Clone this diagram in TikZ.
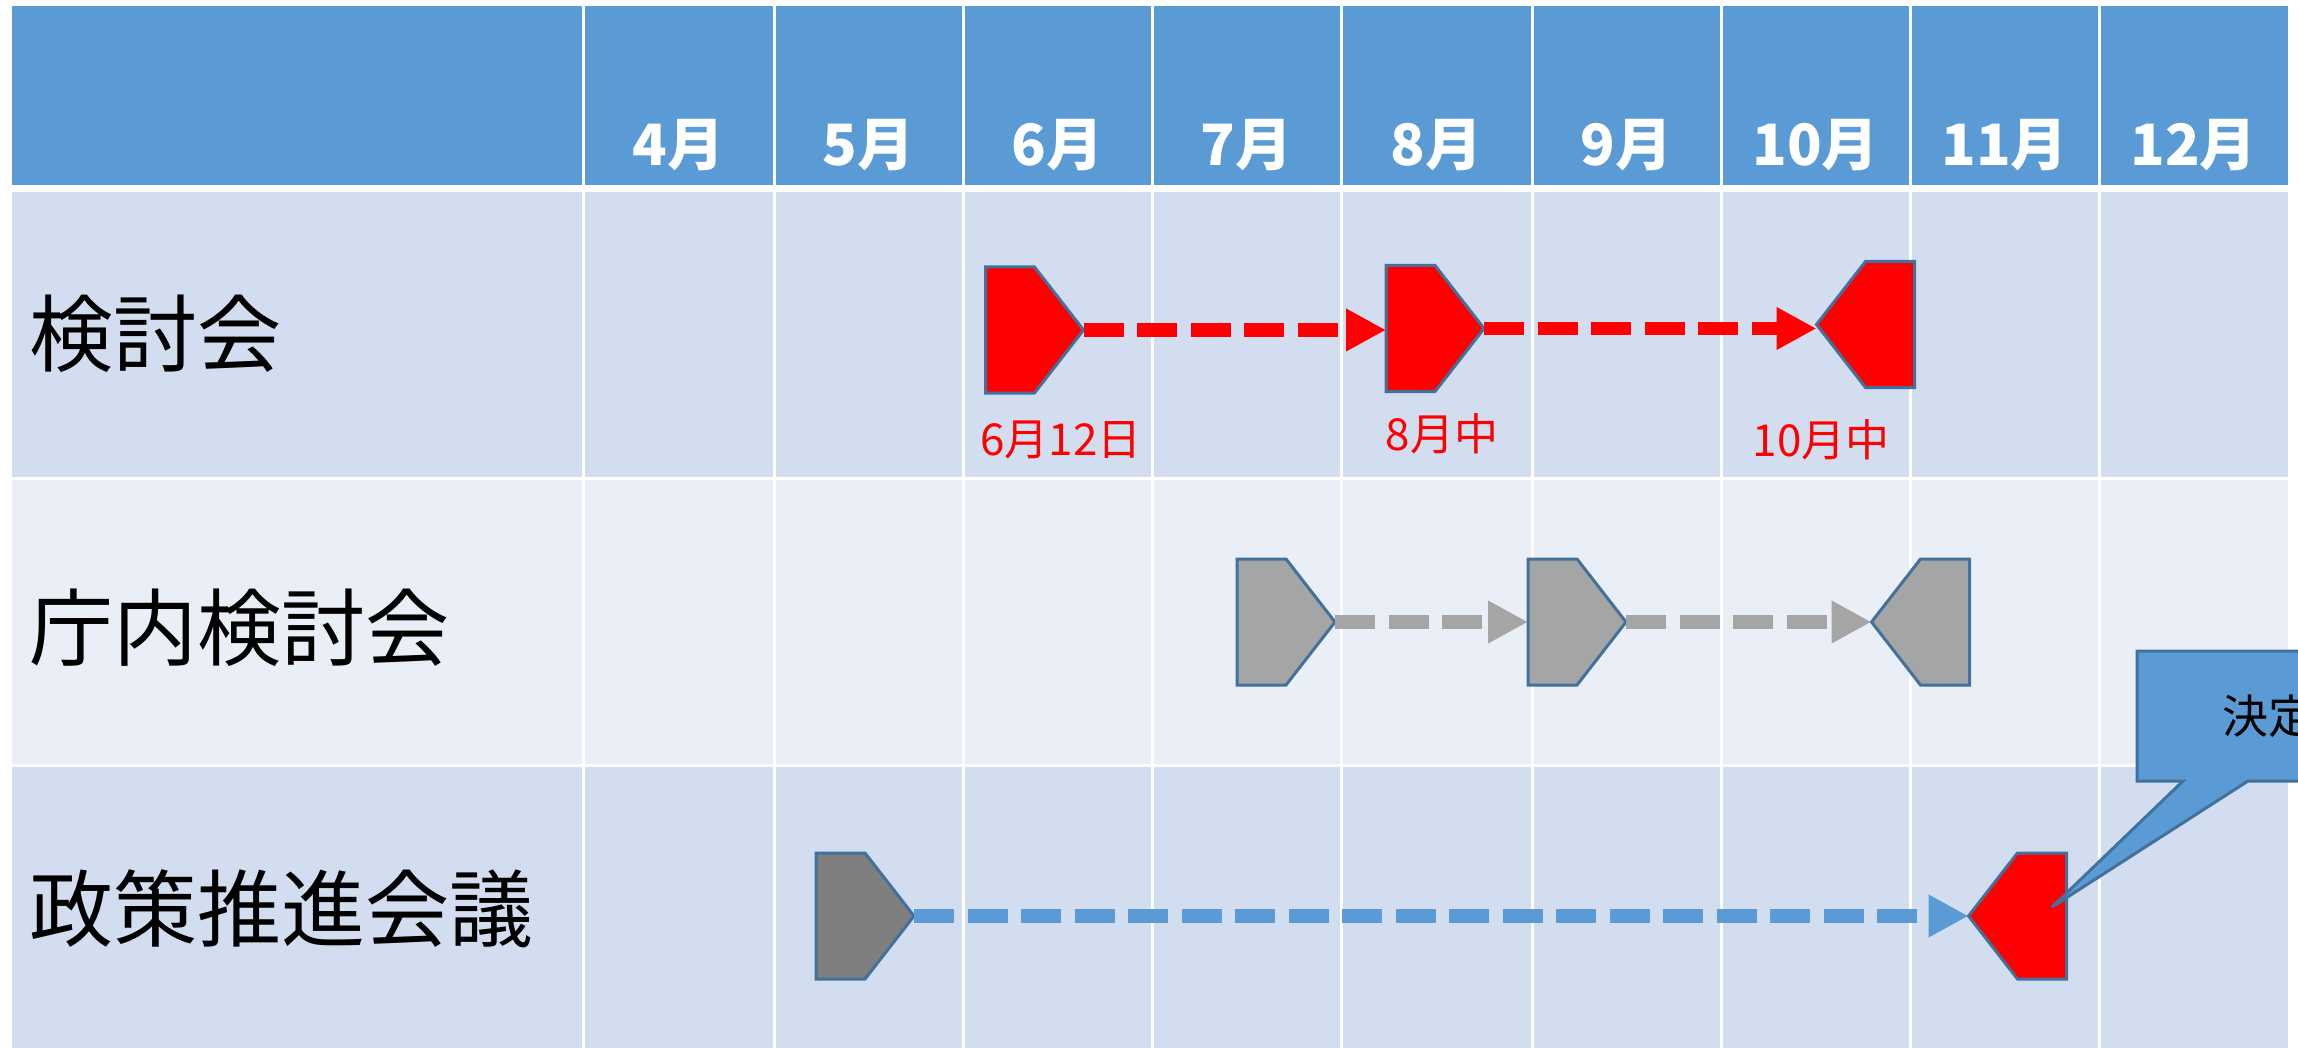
\documentclass[tikz,border=0pt]{standalone}
\usepackage{fontspec}
\setmainfont{Noto Sans CJK JP}
\usetikzlibrary{arrows.meta,calc}
\definecolor{hdr}{HTML}{5B9BD5}
\definecolor{band}{HTML}{D2DEEF}
\definecolor{bandlt}{HTML}{EAEFF7}
\definecolor{edgeblue}{HTML}{41719C}
\definecolor{gry}{HTML}{A5A5A5}
\definecolor{dgry}{HTML}{7F7F7F}
\definecolor{pred}{HTML}{FF0000}
\newcommand\pentR[3]{%
  \node[slot] (#1) at (#2) {};
  \draw[pent,fill=#3] (#1.north west) -- ($(#1.north east)+(-49,0)$) -- (#1.east)
    -- ($(#1.south east)+(-49,0)$) -- (#1.south west) -- cycle;}
\newcommand\pentL[3]{%
  \node[slot] (#1) at (#2) {};
  \draw[pent,fill=#3] (#1.west) -- ($(#1.north west)+(49,0)$) -- (#1.north east)
    -- (#1.south east) -- ($(#1.south west)+(49,0)$) -- cycle;}
\begin{document}
\begin{tikzpicture}[x=1pt,y=-1pt,
  slot/.style={inner sep=0pt,outer sep=0pt,minimum width=98pt,minimum height=126pt},
  pent/.style={draw=edgeblue,line width=3pt,line join=miter},
  flow/.style={draw=#1,line width=13.5pt,dash pattern=on 40pt off 13.5pt,
    -{Triangle[length=40pt,width=40pt]}},
  monthlab/.style={text=white,font=\fontsize{57}{57}\selectfont\bfseries,inner sep=0pt,anchor=base},
  rowlab/.style={text=black,font=\fontsize{84}{84}\selectfont,inner sep=0pt,anchor=west},
  datelab/.style={text=pred,font=\fontsize{44}{44}\selectfont,inner sep=0pt},
  gridline/.style={white,line width=3pt}]
\useasboundingbox (0,0) rectangle (2298,1048);
\clip (0,0) rectangle (2298,1048);
\fill[white] (0,0) rectangle (2298,1048);
% table
\fill[hdr] (12,6) rectangle (2288,185.5);
\fill[band] (12,192) rectangle (2288,476.5);
\fill[bandlt] (12,479.5) rectangle (2288,763.5);
\fill[band] (12,766.5) rectangle (2288,1070);
\foreach \x in {583,774,963,1152,1341,1532,1721,1910,2099}
  \draw[gridline] (\x,6) -- (\x,1070);
% month headers
\foreach \m/\cx in {4/678.5,5/868.5,6/1057.5,7/1246.5,8/1436.5,9/1626.5,10/1815.5,11/2004.5,12/2193.5}
  \node[monthlab] (m\m) at (\cx,166) {\m 月};
% row labels
\node[rowlab] (r1) at (29,334) {検討会};
\node[rowlab] (r2) at (29,628) {庁内検討会};
\node[rowlab] (r3) at (29,909) {政策推進会議};
% row 1
\pentR{k1}{1034.5,330}{pred}
\pentR{k2}{1435,328.5}{pred}
\pentL{k3}{1865.5,324.5}{pred}
\draw[flow=pred] (k1.east) -- (k1.east -| k2.west);
\draw[flow=pred] (k2.east) -- (k2.east -| k3.west);
\node[datelab] (d1) at (1061,440) {6月12日};
\node[datelab] (d2) at (1442,434) {8月中};
\node[datelab] (d3) at (1821,440) {10月中};
% row 2
\pentR{c1}{1286,622}{gry}
\pentR{c2}{1577,622}{gry}
\pentL{c3}{1920.5,622}{gry}
\draw[flow=gry] (c1.east) -- (c2.west);
\draw[flow=gry] (c2.east) -- (c3.west);
% row 3
\pentR{s1}{865,916}{dgry}
\pentL{s2}{2017.5,916}{pred}
\draw[flow=hdr] (s1.east) -- (s2.west);
% callout
\coordinate (ptip) at (2052,907);
\node[inner sep=0pt,outer sep=0pt,minimum width=262pt,minimum height=130pt] (cb) at (2268,716) {};
\draw[fill=hdr,draw=edgeblue,line width=3pt,line join=miter]
  (cb.north west) -- (cb.north east) -- (cb.south east) -- ($(cb.south west)+(111,0)$)
  -- (ptip) -- ($(cb.south west)+(46,0)$) -- (cb.south west) -- cycle;
\node[text=black,font=\fontsize{46}{46}\selectfont,inner sep=0pt] (ct) at (cb.center) {決定};
\end{tikzpicture}
\end{document}
